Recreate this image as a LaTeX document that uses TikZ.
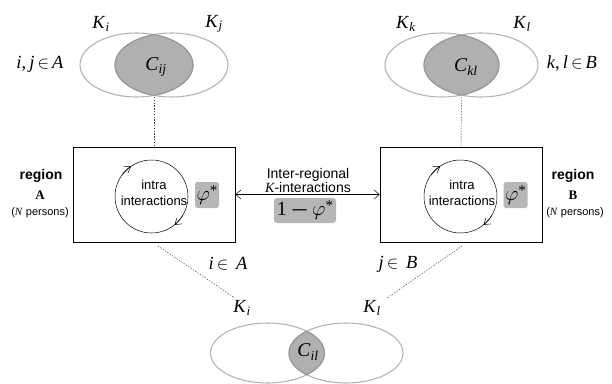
\documentclass[tikz,border=0pt]{standalone}
\usepackage{amsmath}
\usepackage{fontspec}
\setmainfont{Liberation Serif}
\setsansfont{Liberation Sans}
\usetikzlibrary{arrows.meta}
\definecolor{ellgray}{RGB}{180,180,180}
\definecolor{lensgray}{RGB}{176,176,176}
\definecolor{lensline}{RGB}{150,150,150}
\definecolor{boxgray}{RGB}{182,182,182}
\newcommand\vennpair[5]{%
  \begin{scope}
    \clip (#1,#3) ellipse [x radius=#4, y radius=#5];
    \fill[lensgray] (#2,#3) ellipse [x radius=#4, y radius=#5];
  \end{scope}
  \draw[ell] (#1,#3) ellipse [x radius=#4, y radius=#5];
  \draw[ell] (#2,#3) ellipse [x radius=#4, y radius=#5];
  \begin{scope}
    \clip (#1,#3) ellipse [x radius=#4, y radius=#5];
    \draw[ell, draw=lensline] (#2,#3) ellipse [x radius=#4, y radius=#5];
  \end{scope}
  \begin{scope}
    \clip (#2,#3) ellipse [x radius=#4, y radius=#5];
    \draw[ell, draw=lensline] (#1,#3) ellipse [x radius=#4, y radius=#5];
  \end{scope}}
\newcommand\mvar[2]{\textit{#1}\textsubscript{\textit{#2}}}
\newcommand\phistar{$\varphi$\raisebox{0.55ex}{\fontsize{15}{15}\selectfont *}}
\begin{document}
\begin{tikzpicture}[x=1pt,y=1pt,
  ell/.style={draw=ellgray, line width=1.1pt},
  mlabel/.style={font=\fontsize{18.5}{20}\selectfont, inner sep=0pt},
  clabel/.style={font=\fontsize{19.5}{21}\selectfont, inner sep=0pt},
  regbox/.style={draw, line width=0.8pt, minimum width=162, minimum height=95, inner sep=0pt},
  intracirc/.style={draw, circle, line width=0.5pt, minimum size=73, inner sep=0pt},
  circarrow/.style={line width=0.5pt, -{Straight Barb[length=6pt,width=8pt]}},
  dashline/.style={line width=0.45pt, dash pattern=on 1.4pt off 1.4pt, draw=black!75},
  phibox/.style={fill=boxgray, rounded corners=2.5pt, inner sep=0pt, font=\fontsize{20}{22}\selectfont},
  intratext/.style={font=\sffamily\fontsize{13}{16}\selectfont, align=center, inner sep=0pt},
  regname/.style={font=\sffamily\bfseries\fontsize{14}{14}\selectfont, inner sep=0pt},
  regletter/.style={font=\rmfamily\bfseries\fontsize{13}{13}\selectfont, inner sep=0pt},
  regcount/.style={font=\sffamily\fontsize{11}{11}\selectfont, inner sep=0pt},
  interarrow/.style={line width=0.5pt, {Straight Barb[length=5pt,width=9pt]}-{Straight Barb[length=5pt,width=9pt]}}]
\useasboundingbox (0,0) rectangle (612,-383);

% Venn diagrams
\vennpair{136.5}{171.5}{-65}{56.5}{32}
\vennpair{442}{481}{-65}{57}{32}
\vennpair{267.5}{346}{-353}{57}{30}

% labels of top-left Venn
\node[mlabel] (Ki) at (101,-24) {\mvar{K}{i}};
\node[mlabel] (Kj) at (214,-24) {\mvar{K}{j}};
\node[clabel] (Cij) at (156,-67) {\mvar{C}{ij}};
\node[mlabel] (ijA) at (40,-64) {\textit{i},\,\textit{j}\,$\in$\,\textit{A}};

% labels of top-right Venn
\node[mlabel] (Kk) at (406,-24) {\mvar{K}{k}};
\node[mlabel] (Kl) at (522,-24) {\mvar{K}{l}};
\node[clabel] (Ckl) at (466,-67) {\mvar{C}{kl}};
\node[mlabel] (klB) at (572,-64) {\textit{k},\,\textit{l}\,$\in$\,\textit{B}};

% labels of bottom Venn
\node[mlabel] (Kib) at (242,-308) {\mvar{K}{i}};
\node[mlabel] (Klb) at (372,-308) {\mvar{K}{l}};
\node[clabel] (Cil) at (308,-352) {\mvar{C}{il}};

% region boxes
\node[regbox] (boxA) at (154,-194.5) {};
\node[regbox] (boxB) at (461,-194.5) {};

% intra circles
\node[intracirc] (cA) at (151.5,-196.5) {};
\node[intracirc] (cB) at (460.5,-196.5) {};
\draw[circarrow] (cA.center) ++(144:36.5) arc[start angle=144, end angle=124, radius=36.5];
\draw[circarrow] (cA.center) ++(-31:36.5) arc[start angle=-31, end angle=-51, radius=36.5];
\draw[circarrow] (cB.center) ++(144:36.5) arc[start angle=144, end angle=124, radius=36.5];
\draw[circarrow] (cB.center) ++(-31:36.5) arc[start angle=-31, end angle=-51, radius=36.5];
\node[intratext] (tA) at (154,-193) {intra\\interactions};
\node[intratext] (tB) at (462,-193) {intra\\interactions};

% phi boxes
\node[phibox, minimum width=24, minimum height=26] (pA) at (207,-195) {\phistar};
\node[phibox, minimum width=24, minimum height=26] (pB) at (515.5,-195) {\phistar};

% region labels
\node[regname] (rA) at (41,-176) {region};
\node[regletter] (lA) at (40,-195) {A};
\node[regcount] (nA) at (40,-213) {(\textit{\rmfamily N} persons)};
\node[regname] (rB) at (573,-176) {region};
\node[regletter] (lB) at (573,-195) {B};
\node[regcount] (nB) at (575,-213) {(\textit{\rmfamily N} persons)};

% inter-regional arrow
\draw[interarrow] (boxA.east) -- (boxB.west);
\node[font=\sffamily\fontsize{14}{14}\selectfont, align=center, inner sep=0pt] (itxt) at (308,-180) {Inter-regional\\{\rmfamily\itshape K}-interactions};
\node[phibox, rounded corners=3pt, minimum width=62, minimum height=25] (pAB) at (305,-210.5) {1\,$\boldsymbol{-}$\,\phistar};

% membership labels
\node[mlabel] (iA) at (228,-264) {\textit{i}\,$\in$\, \textit{A}};
\node[mlabel] (jB) at (398,-264) {\textit{j}\,$\in$\, \textit{B}};

% dashed connectors
\coordinate (vA) at (154,-97);
\coordinate (vB) at (461.5,-97);
\draw[dashline] (vA) -- (boxA.north);
\draw[dashline] (vB) -- (boxB.north);
\coordinate (bA) at (158,-246);
\coordinate (kA) at (235,-298);
\coordinate (bB) at (462,-246);
\coordinate (kB) at (387,-298);
\draw[dashline] (bA) -- (kA);
\draw[dashline] (bB) -- (kB);
\end{tikzpicture}
\end{document}
